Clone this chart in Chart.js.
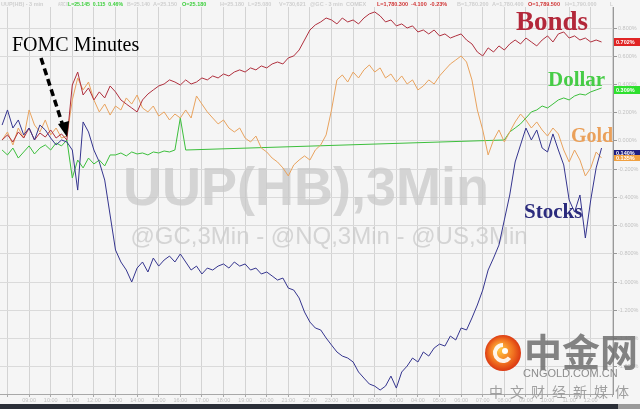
<!DOCTYPE html>
<html>
<head>
<meta charset="utf-8">
<script src="https://cdn.jsdelivr.net/npm/chart.js@4/dist/chart.umd.min.js"></script>
<style>
html, body { margin: 0; padding: 0; background: #f5f5f5; }
#wrap { width: 640px; height: 409px; }
</style>
</head>
<body>
<div id="wrap"><canvas id="chart" width="640" height="409"></canvas></div>
<script>
// time grid: one value every 15 min, hours counted from the first gridline
const startHour = -0.25;
const stepHour = 0.25;
const hourLabels = ["", "09:00", "10:00", "11:00", "12:00", "13:00", "14:00", "15:00", "16:00", "17:00",
    "18:00", "19:00", "20:00", "21:00", "22:00", "23:00", "01:00", "02:00", "03:00", "04:00",
    "05:00", "06:00", "07:00", "08:00", "09:00", "10:00", "11:00", "12:00"];

// % change as plotted
const stocks = [0.113, 0.220, 0.092, 0.149, 0.043, 0.092, 0.007, 0.113, 0.078, 0.021,
    -0.028, 0.007, -0.007, -0.064, -0.348, 0.135, 0.064, -0.064, -0.149, -0.277,
    -0.525, -0.773, -0.858, -0.915, -1.000, -0.901, -0.858, -0.929, -0.830, -0.887,
    -0.844, -0.816, -0.858, -0.801, -0.858, -0.915, -0.887, -0.943, -0.901, -0.915,
    -0.887, -0.872, -0.901, -0.858, -0.887, -0.872, -0.915, -0.901, -0.943, -0.929,
    -0.957, -0.986, -0.972, -1.043, -1.057, -1.113, -1.213, -1.284, -1.326, -1.340,
    -1.397, -1.447, -1.496, -1.525, -1.539, -1.567, -1.638, -1.681, -1.723, -1.738,
    -1.766, -1.738, -1.667, -1.752, -1.638, -1.596, -1.539, -1.567, -1.496, -1.525,
    -1.468, -1.440, -1.454, -1.383, -1.411, -1.326, -1.340, -1.255, -1.163, -1.057,
    -0.915, -0.830, -0.738, -0.560, -0.383, -0.149, -0.028, 0.092, 0.007, 0.078,
    -0.050, -0.078, 0.050, -0.064, -0.170, -0.418, -0.504, -0.383, -0.688, -0.418,
    -0.191, -0.050];

const bonds = [0.007, 0.043, -0.007, 0.064, 0.021, 0.092, 0.007, 0.057, 0.028, 0.078,
    0.021, 0.050, 0.007, 0.397, 0.489, 0.326, 0.376, 0.291, 0.348, 0.305,
    0.390, 0.348, 0.291, 0.262, 0.234, 0.206, 0.291, 0.333, 0.362, 0.390,
    0.404, 0.433, 0.418, 0.397, 0.433, 0.404, 0.418, 0.447, 0.433, 0.461,
    0.447, 0.475, 0.461, 0.489, 0.504, 0.489, 0.518, 0.504, 0.532, 0.518,
    0.546, 0.560, 0.546, 0.589, 0.603, 0.645, 0.716, 0.787, 0.823, 0.844,
    0.872, 0.858, 0.830, 0.872, 0.844, 0.858, 0.830, 0.872, 0.901, 0.915,
    0.887, 0.844, 0.858, 0.816, 0.830, 0.801, 0.816, 0.773, 0.787, 0.759,
    0.787, 0.745, 0.759, 0.730, 0.745, 0.759, 0.716, 0.688, 0.631, 0.603,
    0.660, 0.631, 0.674, 0.645, 0.688, 0.716, 0.688, 0.730, 0.702, 0.674,
    0.716, 0.745, 0.702, 0.759, 0.773, 0.730, 0.745, 0.716, 0.730, 0.702,
    0.716, 0.702];

const gold = [0.007, 0.064, -0.028, 0.092, 0.021, 0.220, 0.113, 0.064, 0.149, 0.043,
    0.092, 0.021, 0.035, 0.291, 0.447, 0.362, 0.418, 0.291, 0.206, 0.262,
    0.184, 0.248, 0.220, 0.305, 0.262, 0.326, 0.234, 0.206, 0.248, 0.177,
    0.206, 0.149, 0.191, 0.163, 0.220, 0.163, 0.319, 0.262, 0.206, 0.163,
    0.121, 0.149, 0.092, 0.064, 0.092, 0.021, -0.007, 0.035, -0.050, -0.078,
    -0.121, -0.149, -0.191, -0.248, -0.170, -0.135, -0.106, -0.135, -0.064, -0.028,
    0.043, 0.220, 0.433, 0.468, 0.418, 0.489, 0.447, 0.504, 0.539, 0.489,
    0.518, 0.447, 0.475, 0.418, 0.461, 0.404, 0.433, 0.362, 0.390, 0.433,
    0.404, 0.461, 0.504, 0.546, 0.574, 0.603, 0.560, 0.433, 0.220, 0.078,
    -0.099, 0.007, 0.078, -0.007, 0.064, 0.135, 0.191, 0.149, 0.092, 0.135,
    0.078, 0.035, 0.092, 0.050, -0.064, -0.149, -0.064, -0.135, -0.248, -0.191,
    -0.078, -0.121];

// dollar has a gap overnight, bloomberg joins it with a straight line
const dollarEarly = [-0.064, -0.099, -0.050, -0.121, -0.078, -0.035, -0.092, -0.050, -0.028, -0.064,
    -0.014, -0.035, 0.007, -0.262, -0.135, -0.191, -0.121, -0.163, -0.135, -0.177,
    -0.099, -0.099, -0.085, -0.106, -0.078, -0.092, -0.085, -0.099, -0.078, -0.085,
    -0.071, -0.078, -0.064, 0.163, -0.064];
const dollarLateStart = 93;
const dollarLate = [0.007, 0.064, 0.092, 0.121, 0.163, 0.206, 0.220, 0.248, 0.234, 0.262,
    0.291, 0.305, 0.291, 0.319, 0.333, 0.326, 0.348, 0.362, 0.376];

const lastValues = { bonds: "0.702%", dollar: "0.309%", stocks: "0.140%", gold: "0.135%" };

const hourAt = (i) => startHour + i * stepHour;
const toPoints = (arr, offset = 0) => arr.map((v, i) => ({ x: hourAt(i + offset), y: v }));

const dollarData = toPoints(dollarEarly).concat(toPoints(dollarLate, dollarLateStart));

const colors = {
    stocks: "#35358f",
    bonds: "#b0303e",
    gold: "#e9a35e",
    dollar: "#3cbf3c",
};

const bgPlugin = {
    id: "bg",
    beforeDraw(chart) {
        const ctx = chart.ctx;
        ctx.save();
        ctx.fillStyle = "#f5f5f5";
        ctx.fillRect(0, 0, chart.width, chart.height);
        ctx.restore();
    },
    beforeDatasetsDraw(chart) {
        // big grey watermark behind the lines
        const ctx = chart.ctx;
        ctx.save();
        ctx.fillStyle = "rgba(200,200,200,0.75)";
        ctx.textAlign = "center";
        ctx.textBaseline = "alphabetic";
        ctx.font = "bold 54px 'Liberation Sans', Arial, sans-serif";
        ctx.fillText("UUP(HB),3Min", 306, 205);
        ctx.font = "24px 'Liberation Sans', Arial, sans-serif";
        ctx.fillText("@GC,3Min - @NQ,3Min - @US,3Min", 329, 244);
        ctx.restore();
    },
};

const overlayPlugin = {
    id: "overlay",
    afterDraw(chart) {
        const ctx = chart.ctx;
        ctx.save();

        // header strip
        ctx.fillStyle = "#f5f5f5";
        ctx.fillRect(0, 0, 613, 7);
        ctx.font = "bold 5.5px 'Liberation Sans', Arial, sans-serif";
        ctx.textBaseline = "alphabetic";
        const header = [
            [1, "UUP(HB) - 3 min", "#cfcfcf", 44],
            [58, "ARCX", "#cfcfcf", 10],
            [68, "L=25.145  0.115  0.46%", "#3ccf3c", 55],
            [127, "B=25.140", "#cfcfcf", 23],
            [153, "A=25.150", "#cfcfcf", 24],
            [182, "O=25.180", "#3ccf3c", 34],
            [220, "H=25.180", "#cfcfcf", 25],
            [248, "L=25.080", "#cfcfcf", 28],
            [279, "V=730,621", "#cfcfcf", 28],
            [310, "@GC - 3 min  COMEX", "#cfcfcf", 64],
            [377, "L=1,780.300  -4.100  -0.23%", "#d03535", 76],
            [457, "B=1,780.200", "#cfcfcf", 33],
            [492, "A=1,780.400", "#cfcfcf", 32],
            [528, "O=1,789.500", "#d03535", 35],
            [565, "H=1,790.000", "#cfcfcf", 42],
            [610, "L", "#cfcfcf", 3],
        ];
        header.forEach(([x, t, c, w]) => {
            ctx.fillStyle = c;
            ctx.fillText(t, x, 6, w);
        });

        // series labels
        ctx.textAlign = "left";
        ctx.font = "bold 27px 'Liberation Serif', 'Times New Roman', serif";
        ctx.fillStyle = "#b3283a";
        ctx.fillText("Bonds", 516, 30);
        ctx.font = "bold 21px 'Liberation Serif', 'Times New Roman', serif";
        ctx.fillStyle = "#46cc46";
        ctx.fillText("Dollar", 548, 86);
        ctx.font = "bold 20px 'Liberation Serif', 'Times New Roman', serif";
        ctx.fillStyle = "#eaa05a";
        ctx.fillText("Gold", 571, 142);
        ctx.fillStyle = "#2b2b7d";
        ctx.font = "bold 21px 'Liberation Serif', 'Times New Roman', serif";
        ctx.fillText("Stocks", 524, 218);

        ctx.fillStyle = "#000";
        ctx.font = "20px 'Liberation Serif', 'Times New Roman', serif";
        ctx.fillText("FOMC Minutes", 12, 51);

        // dashed arrow
        ctx.strokeStyle = "#000";
        ctx.lineWidth = 3.5;
        ctx.setLineDash([7, 4]);
        ctx.beginPath();
        ctx.moveTo(41, 58);
        ctx.lineTo(63, 126);
        ctx.stroke();
        ctx.setLineDash([]);
        ctx.beginPath();
        ctx.moveTo(67, 137);
        ctx.lineTo(58, 124);
        ctx.lineTo(69, 121);
        ctx.closePath();
        ctx.fillStyle = "#000";
        ctx.fill();

        // last value boxes on the right axis
        const boxes = [
            [38, 8, "#e02424", lastValues.bonds],
            [86, 8, "#2ee02e", lastValues.dollar],
            [150, 6, "#1e1e80", lastValues.stocks],
            [155, 6, "#f0a040", lastValues.gold],
        ];
        ctx.font = "bold 5.5px 'Liberation Sans', Arial, sans-serif";
        ctx.textBaseline = "middle";
        boxes.forEach(([y, h, c, t]) => {
            ctx.fillStyle = c;
            ctx.fillRect(614, y, 26, h);
            ctx.fillStyle = "#fff";
            ctx.fillText(t, 616, y + h / 2 + 0.5, 22);
        });

        // cngold watermark
        const cx = 503, cy = 353;
        const grad = ctx.createRadialGradient(cx - 4, cy - 4, 2, cx, cy, 19);
        grad.addColorStop(0, "#ffc040");
        grad.addColorStop(0.6, "#f07020");
        grad.addColorStop(1, "#d83010");
        ctx.fillStyle = grad;
        ctx.beginPath();
        ctx.arc(cx, cy, 18, 0, Math.PI * 2);
        ctx.fill();
        ctx.strokeStyle = "rgba(255,255,255,0.9)";
        ctx.lineWidth = 4;
        ctx.beginPath();
        ctx.arc(cx, cy, 8, Math.PI * 0.2, Math.PI * 1.5);
        ctx.stroke();
        ctx.fillStyle = "#fff";
        ctx.beginPath();
        ctx.arc(cx + 2, cy - 2, 3, 0, Math.PI * 2);
        ctx.fill();

        ctx.textBaseline = "alphabetic";
        ctx.fillStyle = "rgba(110,110,110,0.85)";
        ctx.font = "bold 38px 'Noto Sans CJK SC', sans-serif";
        ctx.fillText("中金网", 524, 366, 114);
        ctx.fillStyle = "rgba(130,130,130,0.9)";
        ctx.font = "11px 'Liberation Sans', Arial, sans-serif";
        ctx.fillText("CNGOLD.COM.CN", 523, 377, 109);
        ctx.font = "14px 'Noto Sans CJK SC', sans-serif";
        ctx.fillStyle = "rgba(150,150,150,0.9)";
        const sub = "中文财经新媒体";
        for (let k = 0; k < sub.length; k++) ctx.fillText(sub[k], 489 + k * 21, 397);

        // dark footer bar
        ctx.fillStyle = "#2a2e37";
        ctx.fillRect(0, 404, 618, 5);
        ctx.fillStyle = "#9a9a9a";
        ctx.fillRect(618, 404, 22, 5);
        ctx.restore();
    },
};

new Chart(document.getElementById("chart"), {
    type: "line",
    data: {
        datasets: [
            { label: "Stocks", data: toPoints(stocks), borderColor: colors.stocks },
            { label: "Bonds", data: toPoints(bonds), borderColor: colors.bonds },
            { label: "Gold", data: toPoints(gold), borderColor: colors.gold },
            { label: "Dollar", data: dollarData, borderColor: colors.dollar },
        ].map((d) => ({ ...d, borderWidth: 1, pointRadius: 0, tension: 0, fill: false })),
    },
    options: {
        responsive: false,
        animation: false,
        devicePixelRatio: 1,
        layout: { padding: { top: 7, left: 0, right: 0, bottom: 0 } },
        plugins: { legend: { display: false }, tooltip: { enabled: false } },
        scales: {
            x: {
                type: "linear",
                min: -0.347,
                max: 28.03,
                afterFit: (s) => { s.height = 15; },
                grid: { color: "#d3d3d3", tickLength: 3, tickColor: "#aaa" },
                border: { color: "#a8a8a8" },
                ticks: {
                    stepSize: 1,
                    includeBounds: false,
                    autoSkip: false,
                    maxRotation: 0,
                    padding: 0,
                    color: "#c2c2c2",
                    font: { size: 5.5, family: "'Liberation Sans', Arial, sans-serif" },
                    callback: (v) => hourLabels[Math.round(v)] || "",
                },
            },
            y: {
                position: "right",
                min: -1.794,
                max: 0.95,
                afterFit: (s) => { s.width = 27; },
                grid: { color: "#dadada", tickLength: 4, tickColor: "#999" },
                border: { color: "#999" },
                ticks: {
                    stepSize: 0.2,
                    includeBounds: false,
                    padding: 1,
                    color: "#c2c2c2",
                    font: { size: 5.5, family: "'Liberation Sans', Arial, sans-serif" },
                    callback: (v) => (Math.abs(v) < 1e-9 ? 0 : v).toFixed(3) + "%",
                },
            },
        },
    },
    plugins: [bgPlugin, overlayPlugin],
});
</script>
</body>
</html>
